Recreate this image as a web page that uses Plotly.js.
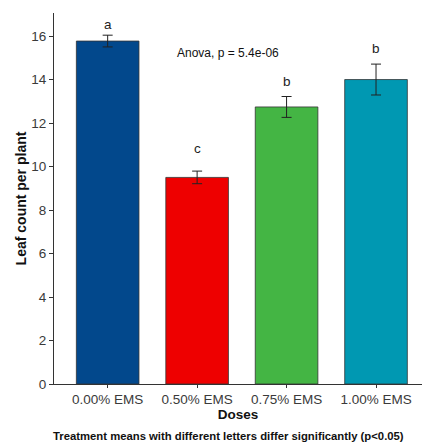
<!DOCTYPE html>
<html>
<head>
<meta charset="utf-8">
<script src="https://cdn.plot.ly/plotly-3.0.1.min.js"></script>
<style>html,body{margin:0;padding:0;background:#fff;}#chart{width:422px;height:442px;}</style>
</head>
<body>
<div id="chart"></div>
<script>
const doses = ["0.00% EMS", "0.50% EMS", "0.75% EMS", "1.00% EMS"];
const means = [15.77, 9.50, 12.74, 14.00];
const se = [0.27, 0.29, 0.48, 0.71];
const letters = ["a", "c", "b", "b"];
const letterY = [16.55, 10.85, 13.93, 15.45];
const colors = ["#02488C", "#EE0000", "#44B544", "#0098B2"];
const yTicks = [0, 2, 4, 6, 8, 10, 12, 14, 16];
const anovaText = "Anova, p = 5.4e-06";
const caption = "Treatment means with different letters differ significantly (p<0.05)";

const xpos = doses.map((d, i) => i + 1);
const FONT = "Liberation Sans, Arial, sans-serif";

const trace = {
  type: "bar",
  x: xpos,
  y: means,
  width: 0.7,
  marker: {color: colors, line: {color: "#333333", width: 0.8}},
  error_y: {type: "data", array: se, visible: true, color: "#222222", thickness: 1, width: 5},
  hoverinfo: "skip"
};

const L = 54, R = 0, T = 13, B = 58, W = 422, H = 442;
const pw = W - L - R, ph = H - T - B;

const annotations = letters.map((l, i) => ({
  x: xpos[i], y: letterY[i], xref: "x", yref: "y", text: l, showarrow: false,
  font: {family: FONT, size: 13.5, color: "#222"}
}));
annotations.push({
  x: 2.345, y: 15.22, xref: "x", yref: "y", text: anovaText, showarrow: false,
  font: {family: FONT, size: 12, color: "#111"}
});
annotations.push({
  x: (406 - L) / pw, y: (H - B - 436) / ph, xref: "paper", yref: "paper",
  text: "<b>" + caption + "</b>", showarrow: false,
  xanchor: "right", yanchor: "middle",
  font: {family: FONT, size: 11.3, color: "#111"}
});

const layout = {
  width: W, height: H,
  margin: {l: L, r: R, t: T, b: B, pad: 0},
  paper_bgcolor: "#fff", plot_bgcolor: "#fff",
  showlegend: false,
  xaxis: {
    range: [0.4, 4.514],
    tickvals: xpos, ticktext: doses,
    showline: true, linecolor: "#333", linewidth: 1,
    ticks: "outside", ticklen: 3, tickcolor: "#333",
    showgrid: false, zeroline: false,
    tickfont: {family: FONT, size: 13.5, color: "#3a3a3a"},
    title: {text: "<b>Doses</b>", standoff: 1, font: {family: FONT, size: 13.5, color: "#111"}}
  },
  yaxis: {
    range: [0, 17.06],
    tickvals: yTicks,
    showline: true, linecolor: "#333", linewidth: 1,
    ticks: "outside", ticklen: 4, tickcolor: "#333",
    showgrid: false, zeroline: false,
    tickfont: {family: FONT, size: 13.5, color: "#3a3a3a"},
    title: {text: "<b>Leaf count per plant</b>", standoff: 1, font: {family: FONT, size: 14, color: "#111"}}
  },
  annotations: annotations
};

Plotly.newPlot("chart", [trace], layout, {displayModeBar: false, staticPlot: true});
</script>
</body>
</html>
